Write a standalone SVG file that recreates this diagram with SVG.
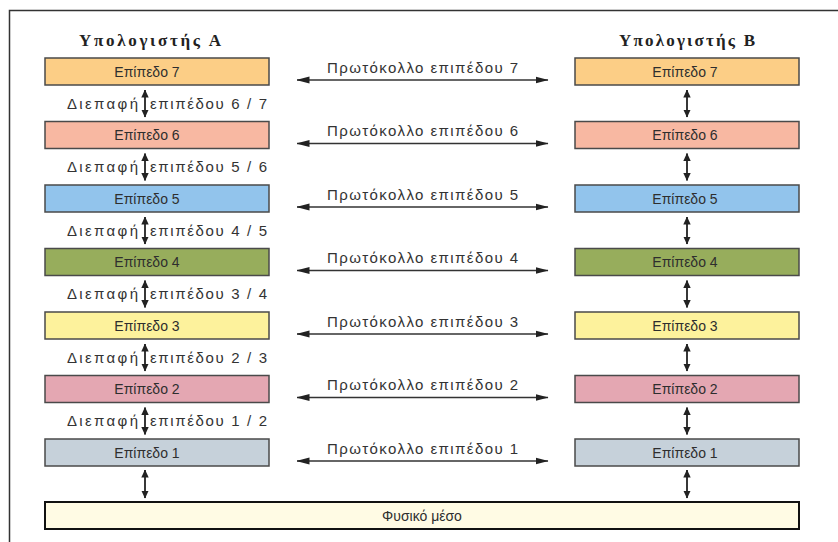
<svg xmlns="http://www.w3.org/2000/svg" width="838" height="542" viewBox="0 0 838 542">
  <defs>
    <marker id="ph" viewBox="0 0 13 8" refX="12.5" refY="4" markerWidth="13" markerHeight="8" markerUnits="userSpaceOnUse" orient="auto-start-reverse">
      <path d="M0,0.5 L13,4 L0,7.5 z" fill="#222"/>
    </marker>
    <marker id="vh" viewBox="0 0 8 8" refX="7.5" refY="4" markerWidth="8" markerHeight="8" markerUnits="userSpaceOnUse" orient="auto-start-reverse">
      <path d="M0,0.3 L8,4 L0,7.7 z" fill="#222"/>
    </marker>
  </defs>
  <style>
    .box { stroke: #4a4a4a; stroke-width: 1.5; }
    .lbl { font-family: "Liberation Sans", Arial, sans-serif; font-size: 15px; fill: #333; }
    .bt { font-family: "Liberation Sans", Arial, sans-serif; font-size: 14px; fill: #2e2e2e; text-anchor: middle; }
    .hd { font-family: "Liberation Serif", "Times New Roman", serif; font-size: 17px; font-weight: bold; fill: #222; text-anchor: middle; }
    .pl { stroke: #333; stroke-width: 1.5; fill: none; marker-start: url(#ph); marker-end: url(#ph); }
    .vl { stroke: #222; stroke-width: 1.8; fill: none; marker-start: url(#vh); marker-end: url(#vh); }
  </style>
  <rect width="838" height="542" fill="#ffffff"/>
  <path d="M9.5,542 L9.5,10.5 L838,10.5" fill="none" stroke="#333" stroke-width="1.5"/>

  <g id="headers">
    <text class="hd" x="150" y="46" textLength="142">Υπολογιστής Α</text>
    <text class="hd" x="687" y="46" textLength="136">Υπολογιστής Β</text>
  </g>

  <g id="A7"><rect class="box" x="45" y="58" width="224" height="27" fill="#fcce86"/><text class="bt" x="147" y="76.5">Επίπεδο 7</text></g>
  <g id="A6"><rect class="box" x="45" y="121.5" width="224" height="27" fill="#f8b8a2"/><text class="bt" x="147" y="140">Επίπεδο 6</text></g>
  <g id="A5"><rect class="box" x="45" y="185" width="224" height="27" fill="#92c4ec"/><text class="bt" x="147" y="203.5">Επίπεδο 5</text></g>
  <g id="A4"><rect class="box" x="45" y="248.5" width="224" height="27" fill="#97ad5c"/><text class="bt" x="147" y="267">Επίπεδο 4</text></g>
  <g id="A3"><rect class="box" x="45" y="312" width="224" height="27" fill="#fdf29c"/><text class="bt" x="147" y="330.5">Επίπεδο 3</text></g>
  <g id="A2"><rect class="box" x="45" y="375.5" width="224" height="27" fill="#e4a7b2"/><text class="bt" x="147" y="394">Επίπεδο 2</text></g>
  <g id="A1"><rect class="box" x="45" y="439" width="224" height="27" fill="#c6d1da"/><text class="bt" x="147" y="457.5">Επίπεδο 1</text></g>

  <g id="B7"><rect class="box" x="575" y="58" width="224" height="27" fill="#fcce86"/><text class="bt" x="685" y="76.5">Επίπεδο 7</text></g>
  <g id="B6"><rect class="box" x="575" y="121.5" width="224" height="27" fill="#f8b8a2"/><text class="bt" x="685" y="140">Επίπεδο 6</text></g>
  <g id="B5"><rect class="box" x="575" y="185" width="224" height="27" fill="#92c4ec"/><text class="bt" x="685" y="203.5">Επίπεδο 5</text></g>
  <g id="B4"><rect class="box" x="575" y="248.5" width="224" height="27" fill="#97ad5c"/><text class="bt" x="685" y="267">Επίπεδο 4</text></g>
  <g id="B3"><rect class="box" x="575" y="312" width="224" height="27" fill="#fdf29c"/><text class="bt" x="685" y="330.5">Επίπεδο 3</text></g>
  <g id="B2"><rect class="box" x="575" y="375.5" width="224" height="27" fill="#e4a7b2"/><text class="bt" x="685" y="394">Επίπεδο 2</text></g>
  <g id="B1"><rect class="box" x="575" y="439" width="224" height="27" fill="#c6d1da"/><text class="bt" x="685" y="457.5">Επίπεδο 1</text></g>

  <g id="medium"><rect x="45" y="502" width="754" height="27" fill="#fffbe4" stroke="#111" stroke-width="2"/><text class="bt" x="422" y="520.5">Φυσικό μέσο</text></g>

  <g id="connectors">
    <line class="pl" x1="297" y1="80" x2="548" y2="80"/>
    <line class="pl" x1="297" y1="143.5" x2="548" y2="143.5"/>
    <line class="pl" x1="297" y1="207" x2="548" y2="207"/>
    <line class="pl" x1="297" y1="270.5" x2="548" y2="270.5"/>
    <line class="pl" x1="297" y1="334" x2="548" y2="334"/>
    <line class="pl" x1="297" y1="397.5" x2="548" y2="397.5"/>
    <line class="pl" x1="297" y1="461" x2="548" y2="461"/>

    <line class="vl" x1="145" y1="90" x2="145" y2="117"/>
    <line class="vl" x1="145" y1="153.5" x2="145" y2="180.5"/>
    <line class="vl" x1="145" y1="217" x2="145" y2="244"/>
    <line class="vl" x1="145" y1="280.5" x2="145" y2="307.5"/>
    <line class="vl" x1="145" y1="344" x2="145" y2="371"/>
    <line class="vl" x1="145" y1="407.5" x2="145" y2="434.5"/>
    <line class="vl" x1="145" y1="470" x2="145" y2="498"/>

    <line class="vl" x1="687" y1="90" x2="687" y2="117"/>
    <line class="vl" x1="687" y1="153.5" x2="687" y2="180.5"/>
    <line class="vl" x1="687" y1="217" x2="687" y2="244"/>
    <line class="vl" x1="687" y1="280.5" x2="687" y2="307.5"/>
    <line class="vl" x1="687" y1="344" x2="687" y2="371"/>
    <line class="vl" x1="687" y1="407.5" x2="687" y2="434.5"/>
    <line class="vl" x1="687" y1="470" x2="687" y2="498"/>
  </g>

  <g id="protocol-labels">
    <text class="lbl" x="327" y="72.5" textLength="191">Πρωτόκολλο επιπέδου 7</text>
    <text class="lbl" x="327" y="136" textLength="191">Πρωτόκολλο επιπέδου 6</text>
    <text class="lbl" x="327" y="199.5" textLength="191">Πρωτόκολλο επιπέδου 5</text>
    <text class="lbl" x="327" y="263" textLength="191">Πρωτόκολλο επιπέδου 4</text>
    <text class="lbl" x="327" y="326.5" textLength="191">Πρωτόκολλο επιπέδου 3</text>
    <text class="lbl" x="327" y="390" textLength="191">Πρωτόκολλο επιπέδου 2</text>
    <text class="lbl" x="327" y="453.5" textLength="191">Πρωτόκολλο επιπέδου 1</text>
  </g>

  <g id="interface-labels">
    <text class="lbl" x="67" y="108.5" textLength="71">Διεπαφή</text>
    <text class="lbl" x="150" y="108.5" textLength="117">επιπέδου 6 / 7</text>
    <text class="lbl" x="67" y="172" textLength="71">Διεπαφή</text>
    <text class="lbl" x="150" y="172" textLength="117">επιπέδου 5 / 6</text>
    <text class="lbl" x="67" y="235.5" textLength="71">Διεπαφή</text>
    <text class="lbl" x="150" y="235.5" textLength="117">επιπέδου 4 / 5</text>
    <text class="lbl" x="67" y="299" textLength="71">Διεπαφή</text>
    <text class="lbl" x="150" y="299" textLength="117">επιπέδου 3 / 4</text>
    <text class="lbl" x="67" y="362.5" textLength="71">Διεπαφή</text>
    <text class="lbl" x="150" y="362.5" textLength="117">επιπέδου 2 / 3</text>
    <text class="lbl" x="67" y="426" textLength="71">Διεπαφή</text>
    <text class="lbl" x="150" y="426" textLength="117">επιπέδου 1 / 2</text>
  </g>
</svg>
